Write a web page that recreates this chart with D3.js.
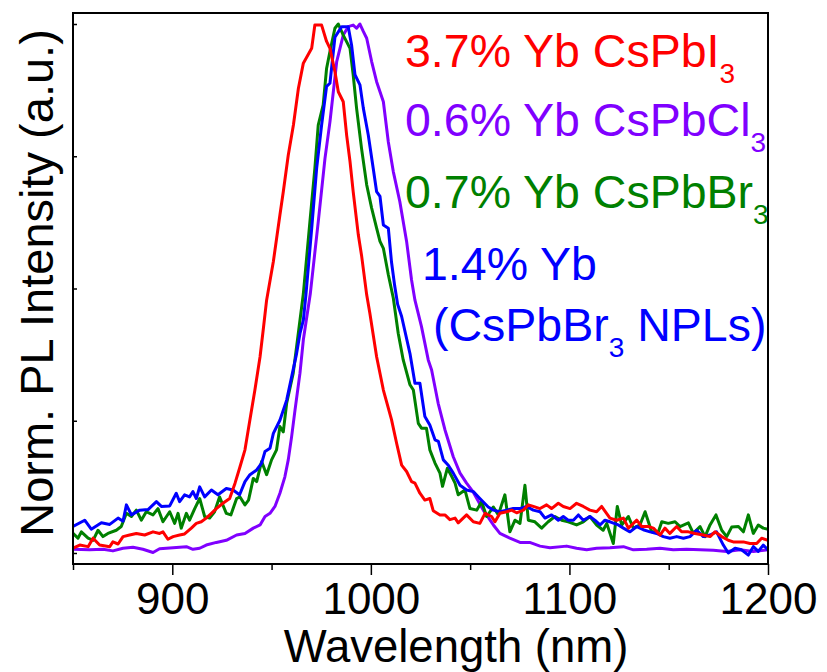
<!DOCTYPE html>
<html>
<head>
<meta charset="utf-8">
<script src="https://cdnjs.cloudflare.com/ajax/libs/d3/7.8.5/d3.min.js"></script>
<style>
    body { margin: 0; background: #fff; }
    svg text { font-family: "Liberation Sans", Arimo, Roboto, Helvetica, sans-serif; }
</style>
</head>
<body>
<div id="chart"></div>
<script>
// PL spectra: [wavelength (nm), normalised intensity]
var redI = [[850,0.009],[853.4,0.015],[857.6,0.012],[860.1,0.028],[863.4,0.015],[868.5,0.012],[870.1,0.021],[872.7,0.017],[875.2,0.031],[878.5,0.034],[881.9,0.037],[886.1,0.034],[890.3,0.040],[893.6,0.037],[895.3,0.040],[897.8,0.026],[900.4,0.031],[903.7,0.034],[906.2,0.036],[909.6,0.047],[912.1,0.056],[914.6,0.059],[917.1,0.066],[919.7,0.075],[922.2,0.084],[925.5,0.094],[928.9,0.103],[931.6,0.132],[934.1,0.163],[936.6,0.195],[939.1,0.252],[941.6,0.308],[944.2,0.371],[945.8,0.422],[947.5,0.478],[950.9,0.551],[954.2,0.639],[955.9,0.683],[958.4,0.752],[961,0.809],[963.5,0.878],[966,0.926],[970.2,0.954],[971.8,0.998],[975.2,0.998],[977.7,0.967],[979.4,0.954],[981.9,0.910],[983.6,0.872],[986.1,0.853],[987.8,0.790],[989.5,0.740],[991.1,0.683],[993.7,0.601],[995.3,0.563],[997.9,0.488],[999.5,0.453],[1002.9,0.371],[1006.3,0.308],[1010.4,0.252],[1013,0.207],[1015.5,0.166],[1018,0.154],[1020.5,0.135],[1022.2,0.132],[1024.7,0.113],[1027.2,0.100],[1029.7,0.103],[1031.4,0.080],[1034.8,0.072],[1037.3,0.072],[1039.8,0.063],[1042.4,0.066],[1044,0.057],[1048.2,0.072],[1051.6,0.059],[1054.9,0.056],[1057.5,0.075],[1060.8,0.069],[1062.5,0.059],[1065,0.075],[1068.4,0.078],[1070.9,0.081],[1073.4,0.076],[1076.8,0.081],[1079.3,0.091],[1081.8,0.088],[1085.2,0.084],[1088.5,0.091],[1091,0.084],[1094.4,0.094],[1096.9,0.088],[1100.3,0.084],[1103.6,0.094],[1107,0.088],[1110.3,0.081],[1113.7,0.078],[1116.2,0.088],[1118.7,0.075],[1120.4,0.066],[1123.8,0.062],[1127.2,0.066],[1129.7,0.047],[1133.9,0.062],[1136.4,0.050],[1139.7,0.050],[1142.3,0.047],[1145.6,0.034],[1148.1,0.047],[1150.6,0.037],[1154,0.050],[1156.5,0.040],[1159.9,0.040],[1163.2,0.037],[1167.4,0.034],[1170.8,0.031],[1173.3,0.040],[1176.7,0.031],[1180,0.024],[1182.5,0.021],[1187.6,0.021],[1190.9,0.018],[1194.3,0.018],[1196.8,0.028],[1200,0.024]];

var purpleCl = [[850,0.007],[858.4,0.006],[865.1,0.007],[870.1,0.004],[875.2,0.009],[880.2,0.011],[885.2,0.007],[890.3,0.001],[893.6,0.008],[900.4,0.010],[907.1,0.012],[910.4,0.007],[913.8,0.009],[917.1,0.015],[922.2,0.020],[927.2,0.024],[932.4,0.034],[936.6,0.037],[940.8,0.047],[944.2,0.053],[946.7,0.069],[949.2,0.075],[951.7,0.088],[954.2,0.113],[956.7,0.144],[958.4,0.176],[960.1,0.220],[961.8,0.270],[964.3,0.340],[966,0.403],[969.5,0.490],[973.5,0.626],[976.9,0.746],[979.4,0.815],[982.8,0.929],[986.1,0.979],[988.6,0.995],[991.1,0.998],[992.8,0.992],[994.5,1.0],[996.2,0.986],[997.9,0.973],[1000.4,0.929],[1002.9,0.891],[1006.3,0.853],[1008.8,0.777],[1011.3,0.721],[1014.6,0.664],[1018,0.589],[1020.5,0.516],[1022.2,0.478],[1025.5,0.428],[1028.9,0.365],[1030.6,0.346],[1033.9,0.283],[1037.3,0.233],[1041.5,0.182],[1044.9,0.151],[1048.2,0.132],[1051.6,0.115],[1056.6,0.081],[1061.7,0.053],[1065,0.037],[1070,0.028],[1075.1,0.020],[1080,0.020],[1085.2,0.013],[1090.2,0.010],[1098.6,0.013],[1103.6,0.009],[1108.7,0.006],[1113.7,0.009],[1120.4,0.010],[1127.2,0.012],[1132.2,0.006],[1138.9,0.007],[1145.6,0.009],[1152.3,0.006],[1159,0.007],[1165.8,0.006],[1172.5,0.005],[1179.2,0.003],[1185.9,0.006],[1192.6,0.003],[1200,0.006]];

var greenBr = [[850,0.037],[852.5,0.028],[854.2,0.040],[857.6,0.028],[860.1,0.024],[862.6,0.043],[865.1,0.031],[867.6,0.037],[871.8,0.043],[874.3,0.050],[876.9,0.075],[879.4,0.069],[881.9,0.081],[884.4,0.062],[886.9,0.078],[890.3,0.072],[892.8,0.084],[895.3,0.059],[898.7,0.078],[901.2,0.056],[902.9,0.075],[904.5,0.047],[907.1,0.075],[908.7,0.062],[911.3,0.084],[913.8,0.103],[916.3,0.069],[918.8,0.066],[921.3,0.078],[923.8,0.106],[927.2,0.075],[929.5,0.072],[932.4,0.103],[934.1,0.106],[936.6,0.091],[938.4,0.100],[940.8,0.141],[942.5,0.135],[945,0.173],[947.5,0.148],[950,0.176],[952.5,0.195],[954.2,0.239],[955.9,0.229],[957.6,0.283],[960.9,0.340],[962.6,0.390],[964.3,0.440],[966,0.490],[969.3,0.626],[971.8,0.727],[973.5,0.809],[976,0.847],[977.7,0.916],[979.4,0.948],[981.9,0.992],[983.6,1.0],[986.1,0.979],[989.5,0.954],[991.1,0.904],[992.8,0.841],[995.3,0.765],[997.9,0.696],[1000.4,0.652],[1002.9,0.614],[1004.6,0.589],[1006.3,0.576],[1008.8,0.526],[1011.3,0.482],[1013.8,0.415],[1016.3,0.365],[1019.7,0.318],[1021.4,0.308],[1023.9,0.245],[1025.5,0.236],[1028,0.236],[1029.7,0.195],[1032.3,0.170],[1034.8,0.151],[1036.1,0.126],[1038.5,0.160],[1040.7,0.145],[1042.4,0.132],[1044,0.110],[1047.4,0.119],[1049.9,0.084],[1053.3,0.081],[1055.8,0.097],[1058.3,0.069],[1061.7,0.087],[1064.2,0.072],[1067.5,0.110],[1070,0.040],[1072.6,0.062],[1075.1,0.056],[1077.6,0.128],[1079.3,0.062],[1082.6,0.059],[1086,0.047],[1089.3,0.059],[1092.7,0.069],[1096.1,0.062],[1099.4,0.059],[1103.6,0.053],[1107,0.059],[1110.3,0.069],[1113.7,0.053],[1117,0.043],[1118.8,0.056],[1122.1,0.018],[1124.1,0.088],[1126.3,0.053],[1129.7,0.069],[1132.2,0.047],[1135.5,0.053],[1138.1,0.078],[1141.4,0.040],[1144.8,0.040],[1146.5,0.059],[1149.8,0.056],[1153.2,0.059],[1155.7,0.050],[1159.9,0.057],[1162.4,0.037],[1165.8,0.050],[1168.3,0.031],[1170.8,0.053],[1173.8,0.072],[1176.7,0.043],[1179.2,0.031],[1181.7,0.049],[1185.1,0.050],[1187.6,0.040],[1190.1,0.072],[1192.6,0.037],[1195.1,0.053],[1197.6,0.047],[1200,0.045]];

var blueNPL = [[850,0.050],[855.9,0.062],[859.2,0.045],[864.3,0.057],[868.5,0.054],[872.7,0.066],[875.2,0.060],[876.9,0.091],[879.4,0.072],[883.6,0.081],[887.8,0.082],[892,0.097],[894.5,0.088],[898.7,0.089],[902,0.113],[903.7,0.097],[906.2,0.110],[908.7,0.106],[910.4,0.116],[912.1,0.103],[913.8,0.125],[916.3,0.106],[919.7,0.119],[923,0.110],[927.2,0.122],[930.6,0.119],[933.9,0.110],[936.6,0.135],[939.1,0.148],[942.5,0.157],[945,0.170],[946.7,0.192],[949.2,0.198],[950.9,0.226],[954.2,0.251],[957.6,0.289],[960.1,0.333],[962.6,0.377],[964.3,0.415],[966,0.440],[967.3,0.488],[970.2,0.613],[972.7,0.727],[975.2,0.809],[977.7,0.882],[979.4,0.888],[981.9,0.975],[985.3,0.995],[988.6,0.995],[990.3,0.960],[992,0.904],[994.5,0.885],[996.2,0.841],[998.7,0.790],[1001.2,0.727],[1002.9,0.683],[1004.6,0.674],[1006.3,0.620],[1008.8,0.614],[1010.4,0.550],[1012,0.505],[1013.5,0.470],[1015.5,0.447],[1019.7,0.377],[1022.2,0.321],[1024.7,0.321],[1027.2,0.258],[1029.7,0.242],[1032.3,0.214],[1034,0.211],[1036.5,0.176],[1039,0.166],[1041.5,0.151],[1044.9,0.128],[1048.2,0.119],[1051.6,0.116],[1054.9,0.103],[1059.1,0.087],[1061.7,0.081],[1065,0.078],[1068.4,0.081],[1071.7,0.084],[1075.1,0.084],[1078.4,0.088],[1081.8,0.081],[1085.2,0.078],[1087.7,0.066],[1091,0.072],[1094.4,0.062],[1096.9,0.069],[1099.4,0.062],[1102,0.062],[1104.5,0.072],[1107,0.062],[1110.3,0.069],[1112.8,0.062],[1115.4,0.053],[1117.9,0.062],[1120.4,0.059],[1124.6,0.053],[1127.2,0.047],[1130.5,0.040],[1133.9,0.050],[1137.2,0.044],[1140.6,0.040],[1143.9,0.037],[1147.3,0.031],[1150.6,0.028],[1154,0.031],[1157.4,0.028],[1160.7,0.031],[1164.1,0.043],[1167.4,0.031],[1170.8,0.034],[1174.1,0.040],[1177.5,0.015],[1180,0.0],[1183.4,0.009],[1186.7,0.006],[1190.1,-0.004],[1192.6,0.012],[1195.1,0.003],[1197.6,0.015],[1200,0.006]];

var xMajorTicks = [900, 1000, 1100, 1200];
var xMinorTicks = [850, 950, 1050, 1150];
var yTicks = [0, 0.25, 0.5, 0.75, 1];

// drawing order: first is at the bottom
var series = [
    { pts: purpleCl, color: "#8000ff" },
    { pts: greenBr, color: "#008000" },
    { pts: blueNPL, color: "#0000ff" },
    { pts: redI, color: "#ff0000" }
];

// legend lines: main text, subscript, trailing text
var legend = [
    { main: "3.7% Yb CsPbI", sub: "3", tail: "", color: "#ff0000", x: 405, y: 67 },
    { main: "0.6% Yb CsPbCl", sub: "3", tail: "", color: "#8000ff", x: 405, y: 136 },
    { main: "0.7% Yb CsPbBr", sub: "3", tail: "", color: "#008000", x: 405, y: 208 },
    { main: "1.4% Yb", sub: "", tail: "", color: "#0000ff", x: 422, y: 280 },
    { main: "(CsPbBr", sub: "3", tail: " NPLs)", color: "#0000ff", x: 433, y: 341 }
];

var W = 827, H = 672;
var margin = { top: 13, right: 59, bottom: 108, left: 73 };
var w = W - margin.left - margin.right;
var h = H - margin.top - margin.bottom;
var FONT = "'Liberation Sans', Arimo, Roboto, Helvetica, sans-serif";

var svg = d3.select("#chart").append("svg")
    .attr("width", W)
    .attr("height", H)
    .attr("font-family", FONT);

svg.append("defs").append("clipPath")
    .attr("id", "clip")
    .append("rect")
    .attr("width", w)
    .attr("height", h);

var g = svg.append("g")
    .attr("transform", "translate(" + margin.left + "," + margin.top + ")");

var x = d3.scaleLinear().domain([850, 1200]).range([0, w]);
var y = d3.scaleLinear().domain([-0.0208, 1.0208]).range([h, 0]);

var line = d3.line()
    .x(function (d) { return x(d[0]); })
    .y(function (d) { return y(d[1]); });

var plot = g.append("g").attr("clip-path", "url(#clip)");
series.forEach(function (s) {
    plot.append("path")
        .datum(s.pts)
        .attr("fill", "none")
        .attr("stroke", s.color)
        .attr("stroke-width", 3)
        .attr("stroke-linejoin", "round")
        .attr("d", line);
});

// x axis, major + minor ticks
var xAxis = g.append("g")
    .attr("transform", "translate(0," + h + ")")
    .call(d3.axisBottom(x).tickValues(xMajorTicks).tickSize(11).tickSizeOuter(0).tickPadding(8).tickFormat(d3.format("d")));
g.append("g")
    .attr("transform", "translate(0," + h + ")")
    .call(d3.axisBottom(x).tickValues(xMinorTicks).tickSize(6).tickSizeOuter(0).tickFormat(""))
    .call(function (a) { a.select(".domain").remove(); });
xAxis.attr("font-family", FONT).attr("font-size", 44);
xAxis.selectAll("text").attr("fill", "#000");

// y axis, inward ticks, no labels
g.append("g")
    .call(d3.axisLeft(y).tickValues(yTicks).tickSize(-4).tickSizeOuter(0).tickFormat(""));

g.selectAll(".tick line").attr("stroke", "#000").attr("stroke-width", 1.5);
g.selectAll(".domain").remove();

// frame
g.append("rect")
    .attr("width", w)
    .attr("height", h)
    .attr("fill", "none")
    .attr("stroke", "#000")
    .attr("stroke-width", 2);

// axis titles
svg.append("text")
    .attr("x", 456)
    .attr("y", 662)
    .attr("text-anchor", "middle")
    .attr("font-size", 45.5)
    .text("Wavelength (nm)");

svg.append("text")
    .attr("transform", "translate(53," + 283 + ") rotate(-90)")
    .attr("text-anchor", "middle")
    .attr("font-size", 47)
    .text("Norm. PL Intensity (a.u.)");

// legend
legend.forEach(function (l) {
    var t = svg.append("text")
        .attr("x", l.x)
        .attr("y", l.y)
        .attr("fill", l.color)
        .attr("font-size", 46.5);
    t.append("tspan").text(l.main);
    if (l.sub) {
        t.append("tspan").attr("dy", 16).attr("font-size", 28).text(l.sub);
    }
    if (l.tail) {
        t.append("tspan").attr("dy", -16).text(l.tail);
    }
});
</script>
</body>
</html>
